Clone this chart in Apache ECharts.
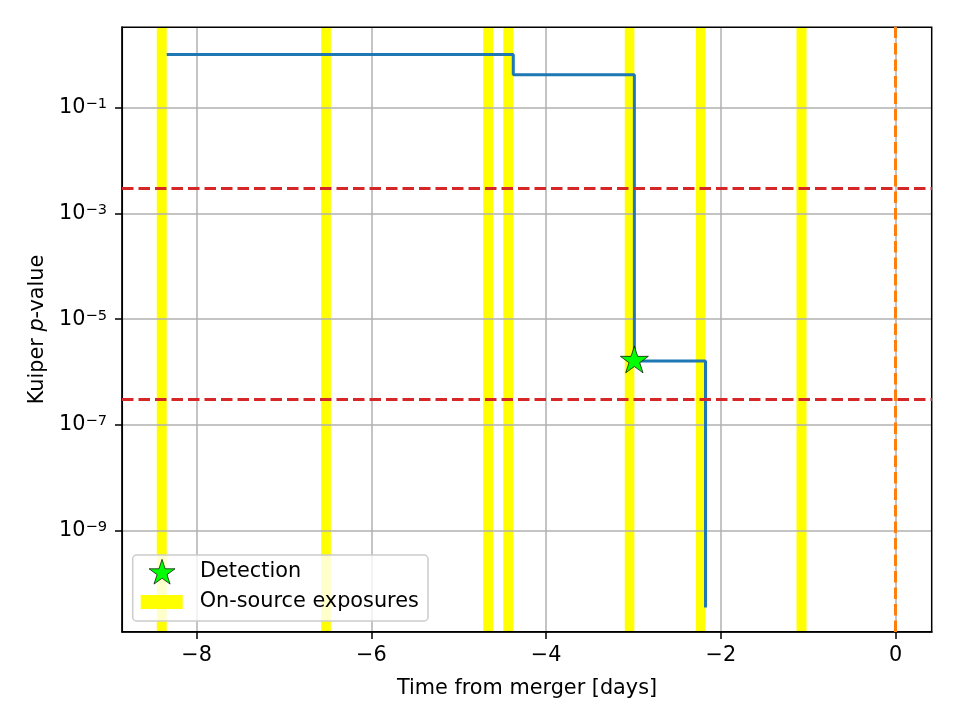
<!DOCTYPE html>
<html>
<head>
<meta charset="utf-8">
<script src="https://cdn.jsdelivr.net/npm/echarts@6/dist/echarts.min.js"></script>
<style>
  html, body { margin: 0; padding: 0; background: #fff; }
  #chart { width: 960px; height: 720px; }
</style>
</head>
<body>
<div id="chart"></div>
<script>
// p-value step curve (changes at the end of each exposure)
const stepTimes = [-8.343, -4.376, -2.99, -2.176]
const pValues = [1.0, 0.417, 1.63e-6, 3.57e-11]

// detection marker
const detectionTime = [-2.99]
const detectionP = [1.63e-6]

// on-source exposure windows [days]
const exposureStart = [-8.457, -6.575, -4.720, -4.490, -3.100, -2.286, -1.134]
const exposureEnd = [-8.343, -6.464, -4.608, -4.376, -2.990, -2.176, -1.019]

// significance thresholds and merger time
const thresholdP = [3e-3, 3e-7]
const mergerTime = [0]

// ticks
const xTicks = [-8, -6, -4, -2, 0]
const yTickExponents = [-9, -7, -5, -3, -1]

const lg = v => Math.log10(v)
const FONT = 'DejaVu Sans'
const FS = 20.8

// matplotlib-like 5 point star
const starPath = (() => {
  const pts = []
  for (let k = 0; k < 10; k++) {
    const r = k % 2 ? 19.1 : 50
    const a = (-90 + k * 36) * Math.PI / 180
    pts.push((50 + r * Math.cos(a)).toFixed(2) + ' ' + (50 + r * Math.sin(a)).toFixed(2))
  }
  return 'path://M' + pts.join(' L') + ' Z'
})()

const minus = v => (v < 0 ? '\u2212' + Math.abs(v) : String(v))

const chart = echarts.init(document.getElementById('chart'), null, { renderer: 'canvas' })

const dashed = color => ({ color, width: 3, type: [11.5, 5] })

const option = {
  animation: false,
  textStyle: { fontFamily: FONT, color: '#000' },
  grid: { left: 122, right: 28, top: 27, bottom: 88, show: false },
  xAxis: {
    type: 'value',
    min: -8.855,
    max: 0.417,
    z: 2,
    name: 'Time from merger [days]',
    nameLocation: 'middle',
    nameGap: 46,
    nameTextStyle: { fontFamily: FONT, fontSize: FS, color: '#000' },
    axisLine: { show: true, onZero: false, lineStyle: { color: '#000', width: 1.5 } },
    axisTick: { show: true, inside: false, length: 7, customValues: xTicks, lineStyle: { color: '#000', width: 1.5 } },
    axisLabel: {
      customValues: xTicks,
      margin: 13,
      fontFamily: FONT,
      fontSize: FS,
      color: '#000',
      formatter: v => minus(v)
    },
    splitLine: { show: true, lineStyle: { color: '#b0b0b0', width: 1.5 } }
  },
  yAxis: {
    type: 'value',
    min: -10.91,
    max: 0.521,
    z: 2,
    name: '{a|Kuiper }{i|p}{a|-value}',
    nameLocation: 'middle',
    nameGap: 74,
    nameTextStyle: {
      rich: {
        a: { fontFamily: FONT, fontSize: FS, color: '#000' },
        i: { fontFamily: FONT, fontSize: FS, color: '#000', fontStyle: 'italic' }
      }
    },
    axisLine: { show: true, onZero: false, lineStyle: { color: '#000', width: 1.5 } },
    axisTick: { show: true, inside: false, length: 7, customValues: yTickExponents, lineStyle: { color: '#000', width: 1.5 } },
    axisLabel: {
      customValues: yTickExponents,
      margin: 15,
      formatter: v => '{b|10}{s|' + minus(v) + '}',
      rich: {
        b: { fontFamily: FONT, fontSize: FS, color: '#000', lineHeight: 22 },
        s: { fontFamily: FONT, fontSize: 14.6, color: '#000', lineHeight: 14, verticalAlign: 'top' }
      }
    },
    splitLine: { show: true, lineStyle: { color: '#b0b0b0', width: 1.5 } }
  },
  legend: [
    {
      data: [{ name: 'Detection', icon: starPath, itemStyle: { color: '#00ff00', borderColor: '#000', borderWidth: 0.7 } }],
      left: 148.7,
      top: 559,
      padding: 0,
      itemWidth: 26,
      itemHeight: 26,
      selectedMode: false,
      z: 7,
      textStyle: { fontFamily: FONT, fontSize: FS, color: '#000', lineHeight: 22, padding: [0, 0, 0, 20] }
    },
    {
      data: [{ name: 'On-source exposures', icon: 'rect', itemStyle: { color: '#ffff00', borderWidth: 0 } }],
      left: 140.7,
      top: 591,
      padding: 0,
      itemWidth: 42,
      itemHeight: 14,
      selectedMode: false,
      z: 7,
      textStyle: { fontFamily: FONT, fontSize: FS, color: '#000', lineHeight: 22, padding: [0, 0, 0, 12] }
    }
  ],
  graphic: [
    {
      type: 'rect',
      z: 5,
      silent: true,
      shape: { x: 122.3, y: 27.3, width: 809.4, height: 604.4 },
      style: { fill: 'none', stroke: '#000', lineWidth: 1.5 }
    },
    {
      type: 'rect',
      z: 6,
      silent: true,
      shape: { x: 132.7, y: 555, width: 295.3, height: 66, r: 4 },
      style: { fill: 'rgba(255,255,255,0.8)', stroke: '#cccccc', lineWidth: 1.5 }
    }
  ],
  series: [
    {
      name: 'On-source exposures',
      type: 'custom',
      z: 1,
      silent: true,
      itemStyle: { color: '#ffff00' },
      encode: { x: [0, 1] },
      data: exposureStart.map((s, i) => [s, exposureEnd[i]]),
      renderItem: (params, api) => {
        const a = api.coord([api.value(0), 0])
        const b = api.coord([api.value(1), 0])
        return {
          type: 'rect',
          shape: { x: a[0], y: params.coordSys.y, width: b[0] - a[0], height: params.coordSys.height },
          style: { fill: '#ffff00' }
        }
      }
    },
    {
      name: 'Kuiper',
      type: 'line',
      z: 3,
      step: 'end',
      symbol: 'none',
      silent: true,
      lineStyle: { color: '#1f77b4', width: 3 },
      data: stepTimes.map((t, i) => [t, lg(pValues[i])]),
      markLine: {
        silent: true,
        symbol: 'none',
        label: { show: false },
        data: thresholdP.map(p => ({ yAxis: lg(p), lineStyle: dashed('#d62728') }))
          .concat(mergerTime.map(t => ({ xAxis: t, lineStyle: dashed('#ff7f0e') })))
      }
    },
    {
      name: 'Detection',
      type: 'scatter',
      z: 4,
      silent: true,
      symbol: starPath,
      symbolSize: 28,
      symbolKeepAspect: true,
      symbolOffset: [0, -1.4],
      itemStyle: { color: '#00ff00', borderColor: '#000', borderWidth: 0.7, opacity: 1 },
      data: detectionTime.map((t, i) => [t, lg(detectionP[i])])
    }
  ]
}

chart.setOption(option)
</script>
</body>
</html>
